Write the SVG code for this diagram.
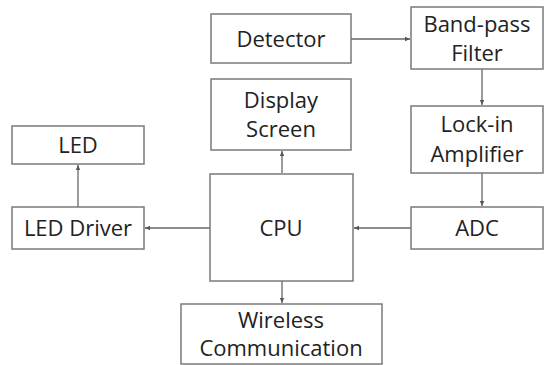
<svg xmlns="http://www.w3.org/2000/svg" width="545" height="365" viewBox="0 0 545 365">
<defs>
<marker id="ah" markerWidth="6" markerHeight="6" refX="5" refY="3" orient="auto" markerUnits="userSpaceOnUse">
<path d="M0,0.8 L5,3 L0,5.2 Z" fill="#555"/>
</marker>
<style>
.box{fill:#fff;stroke:#7a7a7a;stroke-width:1.5}
.t{font-family:"Open Sans","Noto Sans",sans-serif;font-size:22px;fill:#222;text-anchor:middle}
.c{stroke:#666;stroke-width:1.3;fill:none;marker-end:url(#ah)}
</style>
</defs>
<rect width="545" height="365" fill="#fff"/>
<g id="connectors">
<line class="c" x1="351" y1="39" x2="410" y2="39"/>
<line class="c" x1="482" y1="69" x2="482" y2="105"/>
<line class="c" x1="482" y1="173" x2="482" y2="206"/>
<line class="c" x1="411" y1="228" x2="354" y2="228"/>
<line class="c" x1="210" y1="228" x2="145" y2="228"/>
<line class="c" x1="78" y1="207" x2="78" y2="165"/>
<line class="c" x1="282" y1="173" x2="282" y2="151"/>
<line class="c" x1="282" y1="281" x2="282" y2="303"/>
</g>
<g id="detector"><rect class="box" x="211" y="14" width="140" height="49"/><text class="t" x="281" y="47">Detector</text></g>
<g id="bandpass"><rect class="box" x="411" y="7" width="132" height="62"/><text class="t" x="477" y="32">Band-pass</text><text class="t" x="477" y="61">Filter</text></g>
<g id="display"><rect class="box" x="211" y="79" width="140" height="71"/><text class="t" x="281" y="108">Display</text><text class="t" x="281" y="137">Screen</text></g>
<g id="lockin"><rect class="box" x="411" y="106" width="132" height="67"/><text class="t" x="477" y="132">Lock-in</text><text class="t" x="477" y="162">Amplifier</text></g>
<g id="led"><rect class="box" x="12" y="126" width="132" height="38"/><text class="t" x="78" y="153">LED</text></g>
<g id="cpu"><rect class="box" x="210" y="174" width="143" height="107"/><text class="t" x="281" y="236">CPU</text></g>
<g id="leddriver"><rect class="box" x="12" y="207" width="132" height="42"/><text class="t" x="78" y="236">LED Driver</text></g>
<g id="adc"><rect class="box" x="411" y="207" width="132" height="42"/><text class="t" x="477" y="236">ADC</text></g>
<g id="wireless"><rect class="box" x="181" y="304" width="201" height="60"/><text class="t" x="281" y="328">Wireless</text><text class="t" x="281" y="356">Communication</text></g>
</svg>
